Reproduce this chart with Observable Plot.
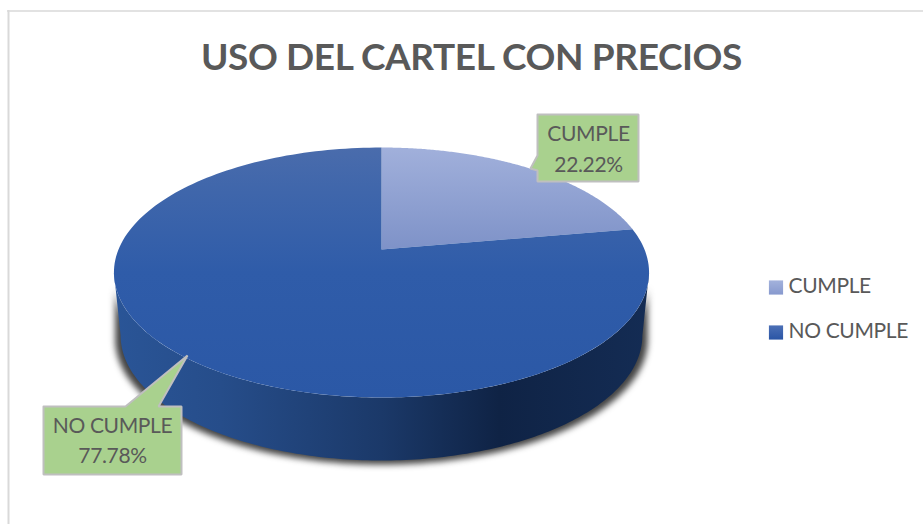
<!DOCTYPE html>
<html><head><meta charset="utf-8">
<style>html,body{margin:0;padding:0;background:#fff}</style>
<script src="https://cdn.jsdelivr.net/npm/d3@7"></script>
<script src="https://cdn.jsdelivr.net/npm/@observablehq/plot@0.6"></script>
</head><body><div id="chart"></div>
<script>
const titleText = "USO DEL CARTEL CON PRECIOS";
const categories = ["CUMPLE", "NO CUMPLE"];
const values = [22.22, 77.78];
const gradients = ["url(#sliceA)", "url(#sliceB)"];
const legendGrads = ["url(#swatchA)", "url(#swatchB)"];
const legendY = [287, 332];
const FONT = "Lato, 'Open Sans', sans-serif";
const INK = "#595959";

// Perspective view of the disc
const cx = 381, apexY = 249, a = 74.95, c = -0.184, k = 263, depth = 63, shrink = 0.975;
const project = t => {
  const u = Math.sin(t), v = -Math.cos(t), w = 1 + c * v;
  return {x: cx + k * u / w, y: (apexY + a * v) / w};
};
const lowerBy = (s, d) => p => ({x: cx + (p.x - cx) * s, y: p.y + d});
const arc = (t0, t1, n = 180) => d3.range(n + 1).map(i => project(t0 + (t1 - t0) * i / n));

const slices = d3.pie().sort(null).startAngle(0).endAngle(2 * Math.PI)(values);
const slicePolys = slices.map((s, i) => ({
  fill: gradients[i],
  pts: [{x: cx, y: apexY}, ...arc(s.startAngle, s.endAngle)]
}));

const tMax = Math.acos(c);            // angle of the disc's widest point
const topFront = arc(tMax, 2 * Math.PI - tMax);
const back = topFront.slice().reverse();
const side = [...topFront, ...back.map(lowerBy(shrink, depth))];
const shadow = [...topFront.map(lowerBy(0.995, 12)), ...back.map(lowerBy(0.995, depth + 4))];

// Callouts: box corners and pointer
const callouts = [
  {cat: 0, x0: 537, x1: 638, y0: 114, y1: 181, tx: 588, ty: [134, 165]},
  {cat: 1, x0: 43, x1: 181, y0: 406, y1: 474, tx: 112, ty: [426, 456]}
];
const outline = d => {
  if (d.cat === 0) return [[d.x0, d.y0], [d.x1, d.y0], [d.x1, d.y1], [d.x0, d.y1], [d.x0, 170], [530, 168], [d.x0, 155], [d.x0, d.y0]];
  return [[d.x0, d.y0], [125, d.y0], [187, 355], [158, d.y0], [d.x1, d.y0], [d.x1, d.y1], [d.x0, d.y1], [d.x0, d.y0]];
};
const pct = d3.format(".2f");

const grad = (defs, id, x2, y2, stops) => {
  const g = defs.append("linearGradient").attr("id", id).attr("x1", 0).attr("y1", 0).attr("x2", x2).attr("y2", y2);
  stops.forEach(([o, col]) => g.append("stop").attr("offset", o).attr("stop-color", col));
};
const defsMark = () => {
  const defs = d3.create("svg:defs");
  grad(defs, "sliceA", 0, 1, [[0, "#a1b0db"], [1, "#7e92c8"]]);
  grad(defs, "sliceB", 0, 1, [[0, "#4a6cac"], [0.18, "#3f66ab"], [0.5, "#2f5ca9"], [1, "#2b58a6"]]);
  grad(defs, "sideGrad", 1, 0, [[0, "#2a5597"], [0.2, "#264d8a"], [0.5, "#1b3969"], [0.72, "#0f2345"], [1, "#142c54"]]);
  grad(defs, "swatchA", 0, 1, [[0, "#a3b2dc"], [1, "#8799ce"]]);
  grad(defs, "swatchB", 0, 1, [[0, "#4c70b6"], [1, "#2a55a5"]]);
  return defs.node();
};
const styled = css => (index, scales, vals, dims, ctx, next) => {
  const g = next(index, scales, vals, dims, ctx);
  Object.assign(g.style, css);
  return g;
};

const poly = (pts, o) => Plot.line(pts, {x: "x", y: "y", curve: "linear", ...o});
const xy = arr => arr.map(([x, y]) => ({x, y}));

const marks = [
  defsMark,
  Plot.ruleY([10.5], {x1: 7, x2: 923, stroke: "#d9d9d9", strokeWidth: 1.5}),
  Plot.ruleX([8], {y1: 10, y2: 524, stroke: "#d9d9d9", strokeWidth: 2}),
  Plot.text([titleText], {x: () => 471, y: () => 58, text: d => d, fontSize: 37, fontWeight: 700, fontFamily: FONT, fill: INK, render: styled({letterSpacing: "-0.4px"})}),
  poly(shadow, {fill: "#222", stroke: "none", fillOpacity: 0.85, render: styled({filter: "blur(3px)"})}),
  poly(side, {fill: "url(#sideGrad)", stroke: "none"}),
  ...slicePolys.map(s => poly(s.pts, {fill: s.fill, stroke: "none"})),
  ...callouts.map(d => poly(xy(outline(d)), {fill: "#a9d18e", stroke: "#bfbfbf", strokeWidth: 2, strokeLinejoin: "miter"})),
  ...callouts.map(d => Plot.text([categories[d.cat], pct(values[d.cat]) + "%"], {
    x: () => d.tx, y: (_, i) => d.ty[i], text: t => t, fontSize: 21, fontFamily: FONT, fill: INK, render: styled({letterSpacing: "-0.35px"})
  })),
  Plot.dot(categories, {x: () => 775.5, y: (_, i) => legendY[i], symbol: "square", r: 8, fill: (_, i) => legendGrads[i], stroke: "none"}),
  Plot.text(categories, {x: () => 788, y: (_, i) => legendY[i] - 1, text: d => d, textAnchor: "start", fontSize: 21, fontFamily: FONT, fill: INK, render: styled({letterSpacing: "-0.35px"})})
];

const chart = Plot.plot({
  width: 923, height: 524, margin: 0,
  x: {domain: [0, 923], range: [0, 923], axis: null},
  y: {domain: [0, 524], range: [0, 524], axis: null},
  symbol: {type: "identity"},
  color: {type: "identity"},
  style: {background: "#fff", display: "block"},
  marks
});
document.getElementById("chart").append(chart);
</script></body></html>
